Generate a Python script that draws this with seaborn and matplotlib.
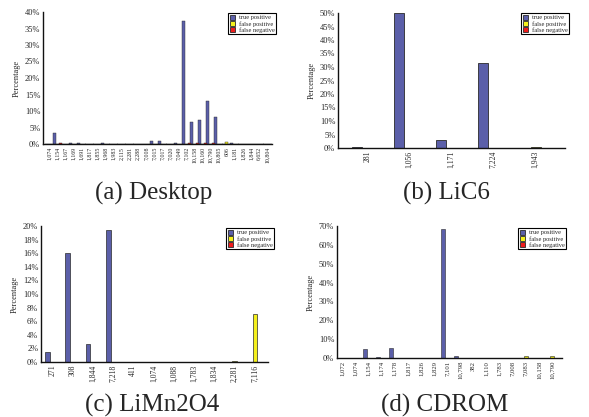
import matplotlib
matplotlib.use("Agg")
import matplotlib.pyplot as plt
from matplotlib.ticker import PercentFormatter, MultipleLocator
import seaborn as sns
import pandas as pd

# ---- data (percentages) ----
TYPES = ["true positive", "false positive", "false negative"]
COLORS = ["#5b5fa9", "#f4f01c", "#ee1c1c"]

desktop_cats = ["1,074", "1,154", "1,167", "1,169", "1,691", "1,817", "1,855",
                "1,968", "1,983", "2,115", "2,281", "2,288", "7,008", "7,015",
                "7,017", "7,020", "7,049", "7,102", "10,158", "10,160", "10,790",
                "10,805", "606", "1,181", "1,826", "1,844", "6,652", "10,804"]
desktop_tp = [0.1, 3.3, 0.1, 0.3, 0.3, 0.1, 0.1, 0.2, 0.1, 0.1, 0.1, 0.1, 0.1, 0.8,
              1.0, 0.1, 0.3, 37.2, 6.8, 7.3, 12.9, 8.2, 0.0, 0.3, 0.1, 0.1, 0.1, 0.1]
desktop_fp = [0.0] * 22 + [0.6, 0.0, 0.0, 0.0, 0.0, 0.0]
desktop_fn = [0.0, 0.3, 0.0, 0.0, 0.0, 0.0, 0.0, 0.0, 0.0, 0.0, 0.0, 0.0, 0.0, 0.0,
              0.0, 0.0, 0.0, 0.3, 0.2, 0.2, 0.3, 0.0, 0.0, 0.0, 0.0, 0.0, 0.0, 0.0]

lic6_cats = ["281", "1,056", "1,171", "7,224", "1,943"]
lic6_tp = [0.5, 50.0, 2.9, 31.6, 0.0]
lic6_fp = [0.0, 0.0, 0.0, 0.0, 0.4]
lic6_fn = [0.0, 0.0, 0.0, 0.0, 0.0]

limn_cats = ["271", "308", "1,844", "7,218", "411", "1,074", "1,088", "1,783",
             "1,834", "2,281", "7,116"]
limn_tp = [1.5, 16.0, 2.6, 19.4, 0.0, 0.0, 0.0, 0.0, 0.0, 0.0, 0.0]
limn_fp = [0.0, 0.0, 0.0, 0.0, 0.0, 0.0, 0.0, 0.0, 0.0, 0.15, 7.1]
limn_fn = [0.0] * 11

cdrom_cats = ["1,072", "1,074", "1,154", "1,174", "1,178", "1,817", "1,826",
              "1,829", "7,101", "10,798", "382", "1,110", "1,783", "7,008",
              "7,083", "10,158", "10,790"]
cdrom_tp = [0.2, 0.2, 4.6, 0.3, 5.3, 0.1, 0.1, 0.1, 68.5, 1.3, 0.0, 0.0, 0.0,
            0.0, 0.0, 0.0, 0.0]
cdrom_fp = [0.0] * 13 + [0.2, 1.2, 0.0, 0.9]
cdrom_fn = [0.0] * 17

W, H = 589, 417

sns.set_style("white")
plt.rcParams["font.family"] = ["Liberation Serif", "DejaVu Serif"]


def panel(fig, rect_px, cats, tp, fp, fn, ymax, ystep, xpad, xtick_fs,
          legend_px, caption, caption_px, bar_w, lw):
    left, top, right, bottom = rect_px
    ax = fig.add_axes([left / W, 1 - bottom / H, (right - left) / W, (bottom - top) / H])
    df = pd.DataFrame({
        "cat": cats * 3,
        "type": [TYPES[0]] * len(cats) + [TYPES[1]] * len(cats) + [TYPES[2]] * len(cats),
        "val": tp + fp + fn,
    })
    sns.barplot(data=df, x="cat", y="val", hue="type", order=cats, hue_order=TYPES,
                palette=COLORS, width=bar_w, edgecolor="#2a2a2a", linewidth=lw,
                saturation=1, ax=ax)
    ax.set_xlim(-xpad[0], len(cats) - 1 + xpad[1])
    ax.set_ylim(0, ymax)
    ax.yaxis.set_major_locator(MultipleLocator(ystep))
    ax.yaxis.set_major_formatter(PercentFormatter(decimals=0))
    ax.set_xlabel("")
    ax.set_ylabel("Percentage", fontsize=6, labelpad=3)
    ax.tick_params(axis="y", direction="in", length=2.5, width=0.7, labelsize=6, pad=2)
    ax.tick_params(axis="x", direction="in", length=2.5, width=0.7,
                   labelsize=xtick_fs, rotation=90, pad=2)
    for s in ["top", "right"]:
        ax.spines[s].set_visible(False)
    for s in ["left", "bottom"]:
        ax.spines[s].set_linewidth(1.0)
        ax.spines[s].set_color("#111111")
    handles, labels = ax.get_legend_handles_labels()
    for h in handles:
        h.set_linewidth(0.6)
    leg = ax.legend(handles, labels, loc="upper left",
                    bbox_to_anchor=(legend_px[0] / W, 1 - legend_px[1] / H),
                    bbox_transform=fig.transFigure, fontsize=4.6, frameon=True,
                    fancybox=False, framealpha=1, edgecolor="black",
                    handlelength=0.9, handleheight=0.9, handletextpad=0.5,
                    borderpad=0.25, labelspacing=0.05, borderaxespad=0)
    leg.get_frame().set_linewidth(0.8)
    fig.text(caption_px[0] / W, 1 - caption_px[1] / H, caption, ha="center",
             va="baseline", fontsize=18)
    return ax


fig = plt.figure(figsize=(W / 100, H / 100), dpi=100)

panel(fig, (43, 12, 272, 144), desktop_cats, desktop_tp, desktop_fp, desktop_fn,
      40, 5, (0.75, 0.6), 4.2, (228, 13), "(a) Desktop", (154, 200), 1.1, 0.3)
panel(fig, (338, 13, 565, 148), lic6_cats, lic6_tp, lic6_fp, lic6_fn,
      50, 5, (0.7, 0.7), 5.5, (521, 13), "(b) LiC6", (446, 200), 0.72, 0.6)
panel(fig, (41, 226, 268, 362), limn_cats, limn_tp, limn_fp, limn_fn,
      20, 2, (0.55, 0.64), 5.5, (226, 228), "(c) LiMn2O4", (152, 412), 0.7, 0.5)
panel(fig, (337, 226, 562, 358), cdrom_cats, cdrom_tp, cdrom_fp, cdrom_fn,
      70, 10, (0.4, 0.75), 4.8, (518, 228), "(d) CDROM", (445, 412), 0.9, 0.4)

fig.savefig("out.png", dpi=100)
